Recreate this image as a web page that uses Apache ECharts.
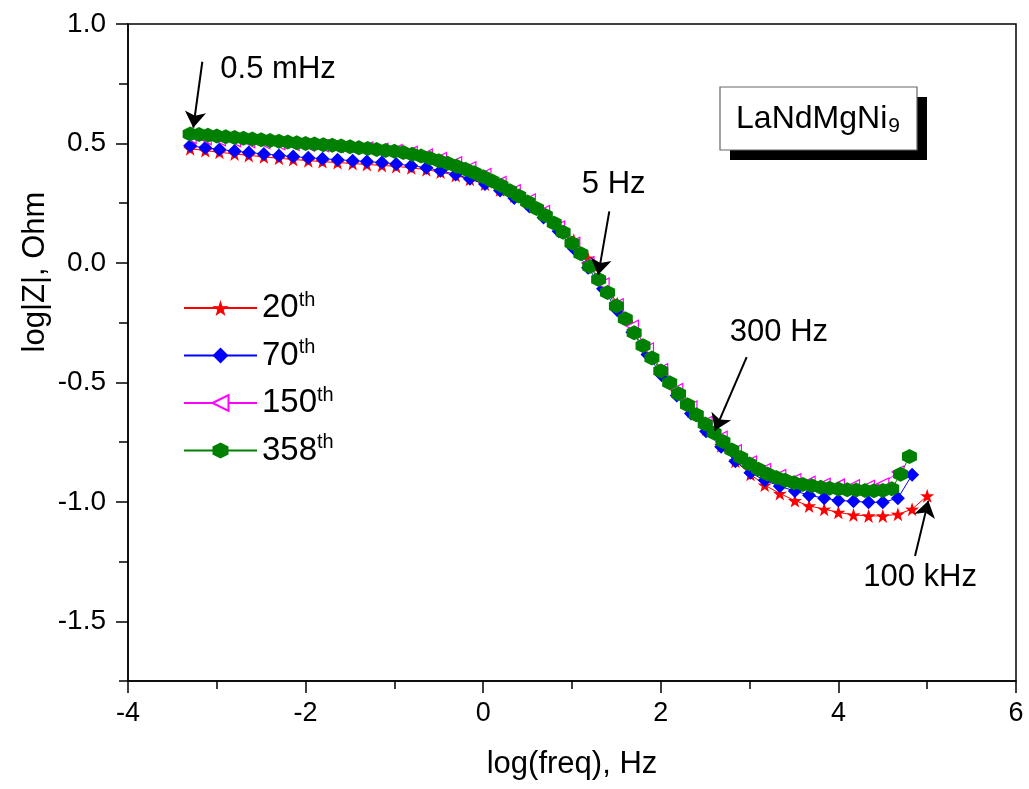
<!DOCTYPE html>
<html>
<head>
<meta charset="utf-8">
<script src="https://cdn.jsdelivr.net/npm/echarts@6/dist/echarts.min.js"></script>
<style>html,body{margin:0;padding:0;background:#fff;}#c{width:1029px;height:789px;}</style>
</head>
<body>
<div id="c"></div>
<script>
// log(freq) grids
const freq6 = [-3.30,-3.13,-2.97,-2.80,-2.64,-2.47,-2.30,-2.14,-1.97,-1.81,-1.64,-1.47,-1.31,-1.14,-0.98,-0.81,-0.64,-0.48,-0.31,-0.15,0.02,0.19,0.35,0.52,0.68,0.85,1.02,1.18,1.35,1.51,1.68,1.85,2.01,2.18,2.34,2.51,2.68,2.84,3.01,3.17,3.34,3.51,3.67,3.84,4.00,4.17,4.34,4.50,4.67,4.83,5.00];
const freq10 = [-3.3,-3.2,-3.1,-3.0,-2.9,-2.8,-2.7,-2.6,-2.5,-2.4,-2.3,-2.2,-2.1,-2.0,-1.9,-1.8,-1.7,-1.6,-1.5,-1.4,-1.3,-1.2,-1.1,-1.0,-0.9,-0.8,-0.7,-0.6,-0.5,-0.4,-0.3,-0.2,-0.1,0.0,0.1,0.2,0.3,0.4,0.5,0.6,0.7,0.8,0.9,1.0,1.1,1.2,1.3,1.4,1.5,1.6,1.7,1.8,1.9,2.0,2.1,2.2,2.3,2.4,2.5,2.6,2.7,2.8,2.9,3.0,3.1,3.2,3.3,3.4,3.5,3.6,3.7,3.8,3.9,4.0,4.1,4.2,4.3,4.4,4.5,4.6,4.7,4.8];

// log|Z| values
const z20 = [0.478,0.470,0.463,0.456,0.450,0.444,0.438,0.433,0.428,0.424,0.420,0.416,0.412,0.408,0.404,0.398,0.390,0.380,0.366,0.350,0.330,0.306,0.280,0.250,0.212,0.160,0.095,0.020,-0.075,-0.170,-0.265,-0.360,-0.450,-0.540,-0.620,-0.695,-0.765,-0.830,-0.885,-0.930,-0.965,-0.995,-1.017,-1.031,-1.044,-1.055,-1.059,-1.059,-1.052,-1.031,-0.975];
const z70 = [0.490,0.482,0.475,0.468,0.462,0.456,0.450,0.445,0.440,0.436,0.432,0.428,0.424,0.420,0.414,0.407,0.398,0.386,0.370,0.352,0.330,0.303,0.272,0.236,0.190,0.132,0.060,-0.020,-0.108,-0.198,-0.290,-0.383,-0.470,-0.555,-0.630,-0.705,-0.770,-0.830,-0.878,-0.910,-0.935,-0.955,-0.972,-0.985,-0.994,-0.998,-1.002,-1.002,-0.985,-0.887];
const z150 = [0.525,0.520,0.515,0.511,0.507,0.503,0.499,0.496,0.493,0.490,0.487,0.484,0.481,0.476,0.471,0.463,0.452,0.437,0.419,0.398,0.370,0.337,0.302,0.263,0.215,0.150,0.082,0.000,-0.088,-0.175,-0.265,-0.360,-0.447,-0.530,-0.603,-0.668,-0.730,-0.786,-0.833,-0.865,-0.890,-0.907,-0.918,-0.926,-0.930,-0.933,-0.935,-0.925,-0.875];
const z358 = [0.540,0.537,0.534,0.531,0.528,0.525,0.522,0.519,0.515,0.512,0.509,0.506,0.503,0.500,0.498,0.495,0.492,0.489,0.486,0.482,0.479,0.475,0.471,0.467,0.462,0.455,0.447,0.438,0.428,0.417,0.405,0.392,0.377,0.361,0.343,0.324,0.302,0.280,0.255,0.228,0.198,0.166,0.128,0.082,0.038,-0.015,-0.069,-0.124,-0.180,-0.234,-0.292,-0.347,-0.398,-0.452,-0.502,-0.548,-0.594,-0.636,-0.674,-0.712,-0.748,-0.783,-0.815,-0.842,-0.864,-0.884,-0.898,-0.910,-0.920,-0.927,-0.933,-0.939,-0.943,-0.946,-0.949,-0.951,-0.953,-0.954,-0.953,-0.945,-0.885,-0.810];

const cycles = ['20','70','150','358'];
const yMajor = [-1.5,-1.0,-0.5,0.0,0.5,1.0];
const yMinor = [-1.75,-1.25,-0.75,-0.25,0.25,0.75];

// annotations (data coordinates)
const annotTexts = [['0.5 mHz',-2.31,0.811],['5 Hz',1.47,0.328],['300 Hz',3.33,-0.29],['100 kHz',4.92,-1.315]];
const arrowFrom = [[-3.163,0.842],[1.42,0.216],[2.967,-0.394],[4.863,-1.227]];
const arrowTo = [[-3.265,0.566],[1.296,-0.05],[2.61,-0.702],[5.013,-0.996]];

const FONT = 'Liberation Sans, Arial, sans-serif';
const pair = (xs, ys) => ys.map((v, i) => [xs[i], v]);

const starPath = 'path://M50,0 L61.8,35.1 L97.6,34.5 L69.1,56.7 L79.4,90.5 L50,70 L20.6,90.5 L30.9,56.7 L2.4,34.5 L38.2,35.1 Z';
const hexPath = 'path://M50,0 L93.3,25 L93.3,75 L50,100 L6.7,75 L6.7,25 Z';

const chart = echarts.init(document.getElementById('c'), null, {renderer: 'canvas'});

const baseLine = (name, color, data, symbol, size, extra) => Object.assign({
  name: name, type: 'line', data: data, symbol: symbol, symbolSize: size,
  showAllSymbol: true, animation: false,
  lineStyle: {color: color, width: 1},
  itemStyle: {color: color},
  z: 3
}, extra || {});

chart.setOption({
  animation: false,
  textStyle: {fontFamily: FONT},
  grid: {left: 128, right: 13, top: 24, bottom: 108, show: true, borderColor: '#000', borderWidth: 1.5, containLabel: false},
  xAxis: {
    type: 'value', min: -4, max: 6, interval: 2,
    axisLine: {onZero: false, lineStyle: {color: '#000', width: 1.5}},
    axisTick: {length: 12, lineStyle: {color: '#000', width: 1.5}},
    minorTick: {show: true, splitNumber: 2, length: 8, lineStyle: {color: '#000', width: 1.5}},
    splitLine: {show: false},
    axisLabel: {color: '#000', fontSize: 27, margin: 19, fontFamily: FONT},
    name: 'log(freq), Hz', nameLocation: 'middle', nameGap: 68,
    nameTextStyle: {color: '#000', fontSize: 31, fontFamily: FONT}
  },
  yAxis: [{
    type: 'value', min: -1.75, max: 1.0,
    axisLine: {onZero: false, lineStyle: {color: '#000', width: 1.5}},
    axisTick: {length: 12, customValues: yMajor, lineStyle: {color: '#000', width: 1.5}},
    splitLine: {show: false},
    axisLabel: {color: '#000', fontSize: 28, margin: 22, customValues: yMajor, fontFamily: FONT,
      formatter: v => v.toFixed(1)}
  }, {
    type: 'value', min: -1.75, max: 1.0, position: 'left', offset: 0,
    axisLine: {show: false, onZero: false},
    axisTick: {length: 9, customValues: yMinor, lineStyle: {color: '#000', width: 1.5}},
    splitLine: {show: false},
    axisLabel: {show: false}
  }],
  legend: {
    orient: 'vertical', left: 178, top: 285, itemWidth: 73, itemHeight: 20, itemGap: 13,
    data: cycles.map(c => c),
    formatter: name => '{n|' + name + '}{s|th}',
    textStyle: {color: '#000', fontFamily: FONT, rich: {
      n: {fontSize: 33, lineHeight: 36, fontFamily: FONT, color: '#000'},
      s: {fontSize: 20, lineHeight: 22, verticalAlign: 'top', fontFamily: FONT, color: '#000'}
    }}
  },
  graphic: [
    {type: 'rect', shape: {x: 730, y: 97, width: 197, height: 63}, style: {fill: '#000'}, z: 10},
    {type: 'rect', shape: {x: 720, y: 87, width: 197, height: 63}, style: {fill: '#fff', stroke: '#666', lineWidth: 1.2}, z: 11},
    {type: 'text', x: 818, y: 119, z: 12, style: {
      text: '{a|LaNdMgNi}{b|9}', align: 'center', verticalAlign: 'middle',
      rich: {a: {fontSize: 32, fontFamily: FONT, fill: '#000', lineHeight: 36},
             b: {fontSize: 21, fontFamily: FONT, fill: '#000', lineHeight: 20, verticalAlign: 'bottom', padding: [14, 0, 0, 1]}}
    }},
    {type: 'text', x: 35, y: 272, rotation: Math.PI / 2, z: 12, style: {
      text: 'log|Z|, Ohm', align: 'center', verticalAlign: 'middle', fontSize: 31, fontFamily: FONT, fill: '#000'
    }}
  ],
  series: [
    baseLine(cycles[0], '#FF0000', pair(freq6, z20), starPath, 14),
    baseLine(cycles[1], '#0000FF', pair(freq6, z70), 'diamond', 14),
    baseLine(cycles[2], '#FF00FF', pair(freq6, z150), 'triangle', 12, {
      symbolRotate: 90,
      itemStyle: {color: '#fff', borderColor: '#FF00FF', borderWidth: 1.2}
    }),
    baseLine(cycles[3], '#008000', pair(freq10, z358), hexPath, 15),
    {
      type: 'lines', coordinateSystem: 'cartesian2d', silent: true, z: 6,
      symbol: ['none', 'arrow'], symbolSize: [10, 16],
      lineStyle: {color: '#000', width: 2, opacity: 1},
      data: arrowFrom.map((f, i) => ({coords: [f, arrowTo[i]]}))
    },
    {
      type: 'scatter', silent: true, symbolSize: 1, z: 6,
      itemStyle: {color: 'rgba(0,0,0,0)', opacity: 1},
      label: {show: true, position: 'inside', formatter: p => p.data[2], opacity: 1,
        color: '#000', fontSize: 31, fontFamily: FONT},
      data: annotTexts.map(a => [a[1], a[2], a[0]])
    }
  ]
});
</script>
</body>
</html>
